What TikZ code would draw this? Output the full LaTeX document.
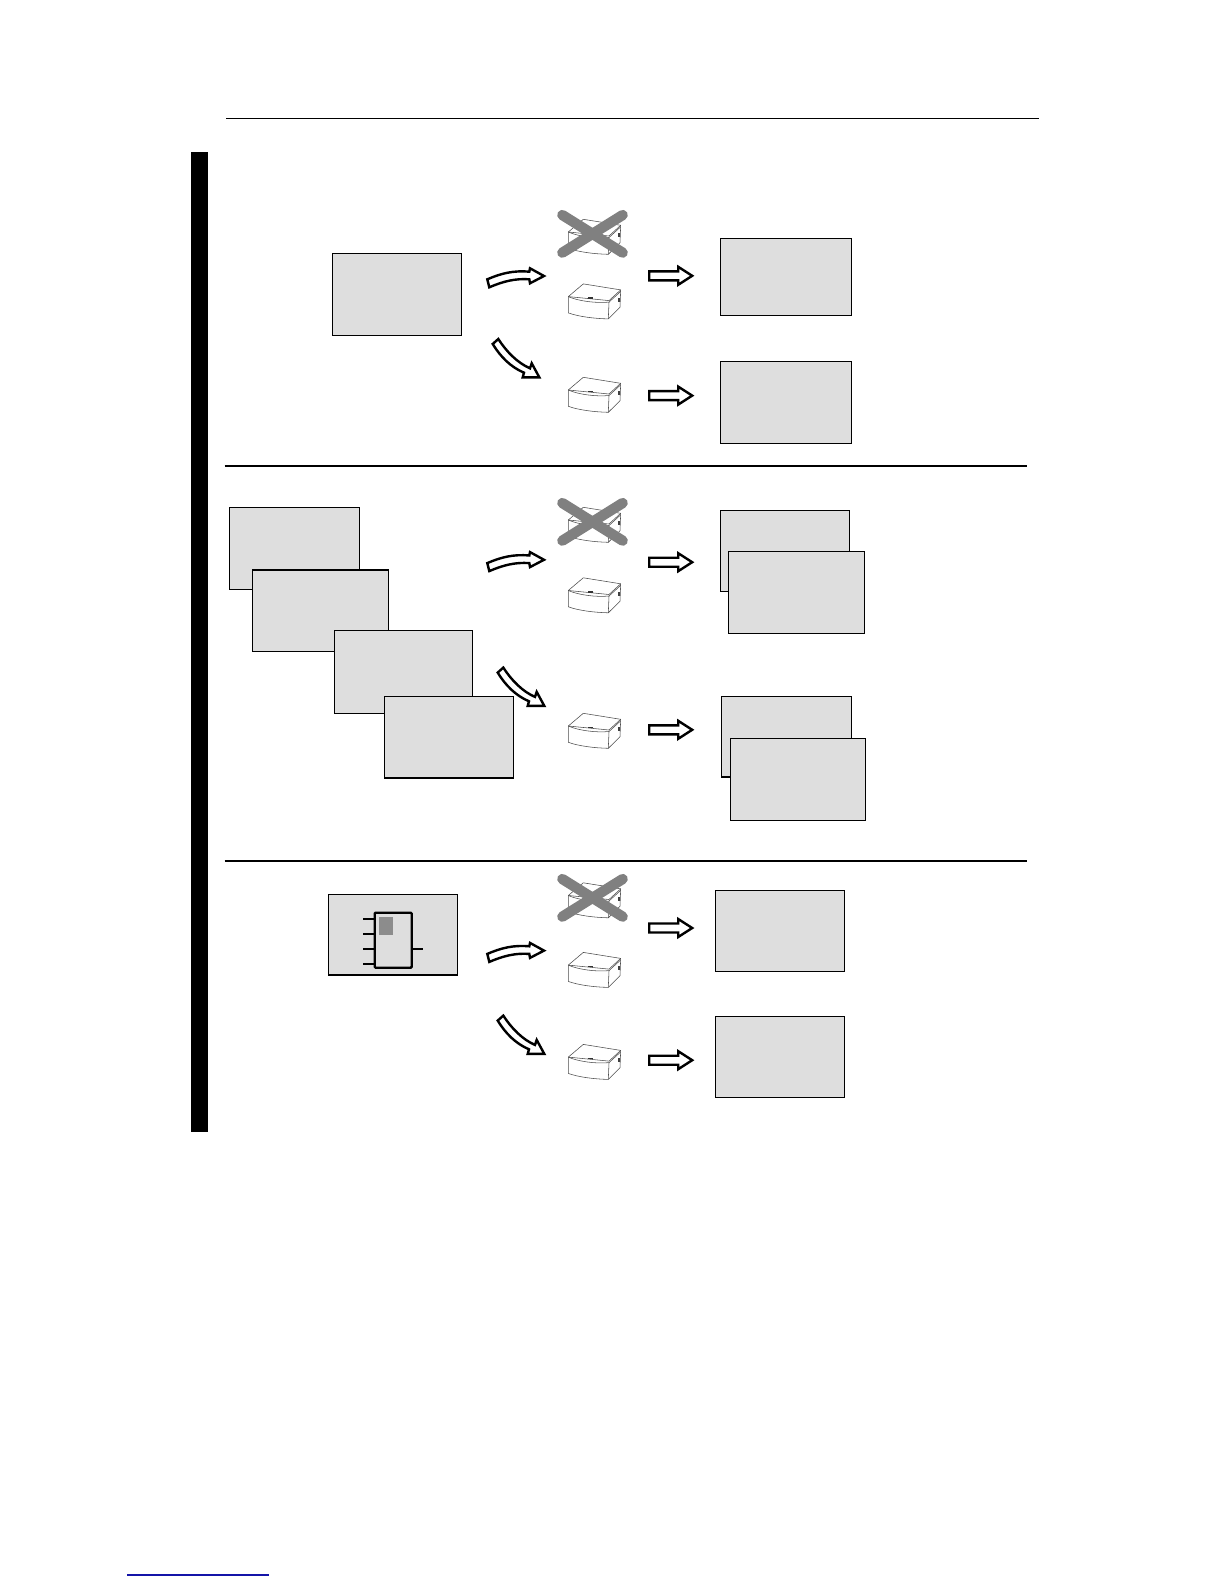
\documentclass[tikz,border=0pt]{standalone}
\definecolor{boxgray}{HTML}{DEDEDE}
\definecolor{crossgray}{HTML}{808080}
\definecolor{patchgray}{HTML}{8C8C8C}
\definecolor{linknavy}{HTML}{1414A8}
\tikzset{
  x=1pt,y=-1pt,
  grayrect/.style={draw=black,fill=boxgray,line width=1.2pt},
  rule/.style={draw=black,line width=2pt},
  cross/.style={draw=crossgray,line width=10.3pt,line cap=round},
  blockarrow/.style={draw=black,fill=white,line width=2.4pt,line join=miter},
  crateline/.style={draw=black!70,line width=.55pt,fill=white,line join=round},
  pics/crate/.style={code={
    \path[crateline] (0,0) -- (15,-12.7) -- (52.4,-6.7) -- (51.7,10.7) -- (40,22.3) .. controls (26,22) and (10,20) .. (0,16.3) -- cycle;
    \path[crateline,fill=none] (0,0) -- (40.7,4);
    \path[crateline,fill=none] (0,0) .. controls (10,4.5) and (28,6.8) .. (40.7,5.5) -- (40,22.3);
    \path[crateline,fill=none] (40.7,4) -- (52.4,-6.7);
    \path[crateline,fill=none] (40.7,5.5) -- (52.4,-5.2);
    \fill[black!80] (19.2,0.6) rectangle (24.2,2.2);
    \fill[black!75] (50,1) rectangle (51.6,5);
  }},
  pics/straightarrow/.style={code={
    \path[blockarrow] (0,-4.5) -- (29,-4.5) -- (29,-9) -- (43,0) -- (29,9) -- (29,4.5) -- (0,4.5) -- cycle;
  }},
  pics/swooshup/.style={code={
    \path[blockarrow] (0,0) .. controls (14,-6) and (26,-9) .. (42,-7.6) -- (42.7,-11) -- (56.7,-3.3) -- (42.7,4) -- (42,0) .. controls (28,-1) and (16,2) .. (2,8) -- cycle;
  }},
  pics/swooshdown/.style={code={
    \path[blockarrow] (0,0) -- (5.6,-5) .. controls (14,8) and (25,19) .. (37.3,24.3) -- (39,19.3) -- (46.6,33.3) -- (30,33.3) -- (31.3,28.7) .. controls (18,23) and (8,13) .. (0,0) -- cycle;
  }},
}
\begin{document}
\begin{tikzpicture}
\useasboundingbox[fill=white] (0,0) rectangle (1224,1584);
% frame rules
\draw[black,line width=1pt] (226,118.5) -- (1039,118.5);
\fill[black] (191,151.5) rectangle (208,1132);
\draw[rule] (224.7,466.2) -- (1027.2,466.2);
\draw[rule] (224.7,861) -- (1027.2,861);
\draw[linknavy,line width=1.2pt] (127,1575) -- (269,1575);
\begin{scope}[shift={(0.2,0.3)}]
% section 1
\path[grayrect] (332.4,253.5) rectangle (461.5,335.3);
\path[grayrect] (720.4,238.3) rectangle (851.4,315);
\path[grayrect] (720.4,361.5) rectangle (851.4,443.3);
% section 2
\path[grayrect] (229.4,507) rectangle (359.5,589);
\path[grayrect] (251.9,569.6) rectangle (388,651.4);
\path[grayrect] (334.4,630) rectangle (472.6,713);
\path[grayrect] (384.2,695.8) rectangle (513,777.6);
\path[grayrect] (720.4,510) rectangle (849.3,590.8);
\path[grayrect] (728.4,551.4) rectangle (864.5,633);
\path[grayrect] (721.4,695.8) rectangle (851.4,776.6);
\path[grayrect] (730.4,738) rectangle (865.5,820);
% section 3
\path[grayrect] (328.4,894.2) rectangle (457.3,974.6);
\path[grayrect] (715.4,889.9) rectangle (844,971.5);
\path[grayrect] (715.4,1016.2) rectangle (844,1096.8);
\end{scope}
% function block
\fill[patchgray] (379,916.7) rectangle (393,935);
\draw[black,line width=2.4pt,rounded corners=1pt] (374.7,912.7) rectangle (411.7,967.7);
\draw[black,line width=2pt] (363.3,918.7) -- (374.7,918.7) (363.3,934) -- (374.7,934) (363.3,949.3) -- (374.7,949.3) (363.3,964) -- (374.7,964) (411.7,949.3) -- (422.7,949.3);
% crates and crosses
\pic at (568.3,232) {crate};
\pic at (568.3,296.6) {crate};
\pic at (568.3,390) {crate};
\draw[cross] (562.3,215) -- (622.7,252.7) (622.7,215) -- (562.3,252.7);
\pic at (568.3,520) {crate};
\pic at (568.3,590.5) {crate};
\pic at (568.3,726) {crate};
\draw[cross] (562.3,503) -- (622.7,540.7) (622.7,503) -- (562.3,540.7);
\pic at (568.3,895.5) {crate};
\pic at (568.3,965.1) {crate};
\pic at (568.3,1057.1) {crate};
\draw[cross] (562.3,879) -- (622.7,916.7) (622.7,879) -- (562.3,916.7);
% block arrows
\pic at (487.3,279.3) {swooshup};
\pic at (492.7,344) {swooshdown};
\pic at (649.2,275.8) {straightarrow};
\pic at (649.2,395.6) {straightarrow};
\pic at (487.3,563.1) {swooshup};
\pic at (497.7,672.6) {swooshdown};
\pic at (649.2,562.2) {straightarrow};
\pic at (649.2,729.8) {straightarrow};
\pic at (487.3,953.9) {swooshup};
\pic at (497.7,1020.6) {swooshdown};
\pic at (649.2,928) {straightarrow};
\pic at (649.2,1060.2) {straightarrow};
\end{tikzpicture}
\end{document}
